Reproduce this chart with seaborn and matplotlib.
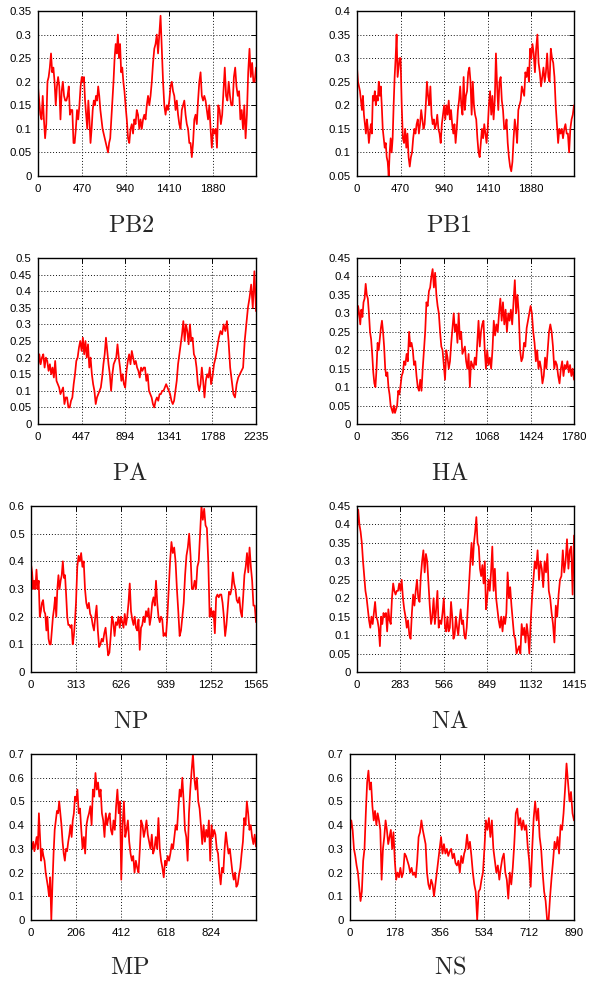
import numpy as np
import pandas as pd
import matplotlib
matplotlib.use("Agg")
import matplotlib.pyplot as plt
import seaborn as sns

# Segment names, in panel order (row by row)
segments = ["PB2", "PB1", "PA", "HA", "NP", "NA", "MP", "NS"]

# Segment lengths (x-axis extent, nucleotides)
seg_length = {"PB2": 2341, "PB1": 2341, "PA": 2235, "HA": 1780,
              "NP": 1565, "NA": 1415, "MP": 1027, "NS": 890}

# Labelled x ticks per segment
xticks = {
    "PB2": [0, 470, 940, 1410, 1880],
    "PB1": [0, 470, 940, 1410, 1880],
    "PA": [0, 447, 894, 1341, 1788, 2235],
    "HA": [0, 356, 712, 1068, 1424, 1780],
    "NP": [0, 313, 626, 939, 1252, 1565],
    "NA": [0, 283, 566, 849, 1132, 1415],
    "MP": [0, 206, 412, 618, 824],
    "NS": [0, 178, 356, 534, 712, 890],
}

# y-axis limits and tick step
ylims = {"PB2": (0, 0.35, 0.05), "PB1": (0.05, 0.4, 0.05), "PA": (0, 0.5, 0.05),
         "HA": (0, 0.45, 0.05), "NP": (0, 0.6, 0.1), "NA": (0, 0.45, 0.05),
         "MP": (0, 0.7, 0.1), "NS": (0, 0.7, 0.1)}

# Sliding-window scores, one list per stretch between consecutive x ticks
# (last stretch runs to the end of the segment)
pb2_scores = [
    [0.19, 0.16, 0.13, 0.12, 0.17, 0.12, 0.08, 0.11, 0.20, 0.21, 0.23, 0.26, 0.22, 0.23, 0.20, 0.15, 0.19, 0.21, 0.19, 0.12,
     0.18, 0.20, 0.17, 0.16, 0.16, 0.17, 0.19, 0.13, 0.14, 0.14, 0.07, 0.07, 0.10, 0.14, 0.12, 0.15, 0.19],
    [0.21, 0.20, 0.21, 0.16, 0.13, 0.10, 0.16, 0.12, 0.07, 0.10, 0.14, 0.16, 0.15, 0.17, 0.16, 0.19, 0.17, 0.14, 0.12, 0.10,
     0.09, 0.08, 0.07, 0.06, 0.05, 0.07, 0.08, 0.12, 0.16, 0.20, 0.25, 0.28, 0.26, 0.30, 0.25, 0.28, 0.22, 0.23, 0.20, 0.18],
    [0.15, 0.12, 0.08, 0.07, 0.10, 0.11, 0.09, 0.12, 0.11, 0.14, 0.13, 0.10, 0.12, 0.10, 0.12, 0.13, 0.12, 0.15, 0.17, 0.15,
     0.17, 0.20, 0.24, 0.27, 0.28, 0.30, 0.26, 0.30, 0.34, 0.27, 0.20, 0.15, 0.13, 0.15, 0.14],
    [0.16, 0.19, 0.20, 0.18, 0.17, 0.14, 0.16, 0.13, 0.11, 0.10, 0.14, 0.15, 0.16, 0.13, 0.11, 0.10, 0.07, 0.07, 0.04, 0.07,
     0.12, 0.13, 0.11, 0.16, 0.20, 0.22, 0.17, 0.16, 0.17, 0.16, 0.14, 0.12, 0.15, 0.10, 0.06],
    [0.10, 0.09, 0.10, 0.06, 0.15, 0.14, 0.11, 0.13, 0.18, 0.23, 0.17, 0.16, 0.20, 0.17, 0.15, 0.15, 0.21, 0.23, 0.19, 0.17,
     0.18, 0.12, 0.14, 0.10, 0.15, 0.08, 0.13, 0.22, 0.27, 0.21, 0.24, 0.20, 0.20, 0.23],
]
pb1_scores = [
    [0.28, 0.25, 0.24, 0.23, 0.21, 0.19, 0.22, 0.18, 0.16, 0.14, 0.17, 0.15, 0.12, 0.14, 0.16, 0.14, 0.22, 0.21, 0.23, 0.20,
     0.22, 0.21, 0.25, 0.22, 0.24, 0.20, 0.15, 0.13, 0.11, 0.12, 0.09, 0.08, 0.05, 0.10, 0.13, 0.10, 0.13, 0.20, 0.26, 0.30,
     0.35, 0.26, 0.28, 0.30],
    [0.30, 0.20, 0.13, 0.12, 0.15, 0.11, 0.14, 0.09, 0.07, 0.09, 0.10, 0.13, 0.15, 0.14, 0.16, 0.17, 0.14, 0.16, 0.19, 0.17,
     0.15, 0.16, 0.20, 0.25, 0.22, 0.20, 0.24, 0.18, 0.16, 0.17, 0.15, 0.16, 0.18, 0.15, 0.14, 0.12, 0.16, 0.18],
    [0.20, 0.17, 0.20, 0.18, 0.21, 0.17, 0.19, 0.16, 0.14, 0.16, 0.12, 0.15, 0.19, 0.21, 0.24, 0.20, 0.18, 0.26, 0.19, 0.22,
     0.23, 0.27, 0.28, 0.25, 0.18, 0.25, 0.20, 0.18, 0.17, 0.13, 0.10, 0.09, 0.12, 0.15, 0.13, 0.16, 0.14, 0.12],
    [0.15, 0.20, 0.23, 0.18, 0.22, 0.17, 0.21, 0.31, 0.24, 0.19, 0.25, 0.26, 0.21, 0.19, 0.15, 0.15, 0.17, 0.12, 0.09, 0.07,
     0.06, 0.08, 0.13, 0.17, 0.15, 0.12, 0.19, 0.20, 0.21, 0.24, 0.23, 0.22, 0.27, 0.26, 0.28, 0.25, 0.32],
    [0.30, 0.33, 0.31, 0.27, 0.32, 0.35, 0.29, 0.27, 0.24, 0.26, 0.28, 0.25, 0.27, 0.31, 0.26, 0.25, 0.32, 0.30, 0.29, 0.26,
     0.20, 0.16, 0.12, 0.15, 0.14, 0.15, 0.13, 0.15, 0.16, 0.14, 0.14, 0.10, 0.15, 0.17, 0.18, 0.20],
]
pa_scores = [
    [0.17, 0.21, 0.18, 0.20, 0.21, 0.17, 0.20, 0.19, 0.16, 0.18, 0.15, 0.17, 0.14, 0.19, 0.13, 0.12, 0.11, 0.09, 0.10, 0.11,
     0.06, 0.08, 0.08, 0.05, 0.05, 0.07, 0.08, 0.12, 0.15, 0.19, 0.20, 0.23, 0.25],
    [0.22, 0.26, 0.21, 0.25, 0.20, 0.24, 0.17, 0.20, 0.15, 0.12, 0.10, 0.06, 0.08, 0.09, 0.10, 0.11, 0.14, 0.18, 0.21, 0.26,
     0.22, 0.18, 0.15, 0.10, 0.15, 0.18, 0.19, 0.20, 0.24, 0.20, 0.17, 0.13, 0.15, 0.12],
    [0.11, 0.16, 0.19, 0.21, 0.18, 0.22, 0.20, 0.18, 0.19, 0.17, 0.16, 0.14, 0.17, 0.16, 0.17, 0.17, 0.13, 0.15, 0.10, 0.09,
     0.08, 0.06, 0.05, 0.07, 0.08, 0.07, 0.09, 0.09, 0.10, 0.10, 0.11, 0.12, 0.11],
    [0.10, 0.09, 0.07, 0.06, 0.07, 0.10, 0.13, 0.18, 0.21, 0.24, 0.27, 0.31, 0.25, 0.30, 0.28, 0.24, 0.30, 0.25, 0.26, 0.21,
     0.20, 0.17, 0.12, 0.10, 0.12, 0.17, 0.13, 0.08, 0.13, 0.15, 0.14, 0.17, 0.12],
    [0.14, 0.18, 0.20, 0.23, 0.26, 0.28, 0.27, 0.30, 0.28, 0.31, 0.25, 0.17, 0.13, 0.09, 0.08, 0.12, 0.14, 0.15, 0.16, 0.17,
     0.25, 0.30, 0.35, 0.38, 0.42, 0.35, 0.46, 0.34],
]
ha_scores = [
    [0.28, 0.32, 0.30, 0.27, 0.31, 0.29, 0.33, 0.34, 0.38, 0.35, 0.34, 0.30, 0.25, 0.23, 0.19, 0.14, 0.11, 0.10, 0.15, 0.22,
     0.20, 0.23, 0.26, 0.28, 0.25, 0.21, 0.15, 0.13, 0.14, 0.10, 0.08, 0.05, 0.04, 0.03, 0.05, 0.03, 0.04, 0.05, 0.09, 0.08],
    [0.10, 0.13, 0.14, 0.17, 0.16, 0.19, 0.17, 0.25, 0.21, 0.22, 0.20, 0.16, 0.17, 0.13, 0.10, 0.09, 0.12, 0.09, 0.15, 0.20,
     0.25, 0.33, 0.32, 0.36, 0.37, 0.40, 0.42, 0.37, 0.41, 0.35, 0.32, 0.30, 0.25, 0.21, 0.20],
    [0.16, 0.12, 0.20, 0.18, 0.15, 0.17, 0.22, 0.26, 0.30, 0.25, 0.27, 0.22, 0.30, 0.23, 0.25, 0.19, 0.20, 0.21, 0.17, 0.15,
     0.19, 0.10, 0.17, 0.16, 0.15, 0.18, 0.16, 0.22, 0.28, 0.21, 0.25, 0.27, 0.28, 0.20, 0.15],
    [0.20, 0.16, 0.18, 0.15, 0.20, 0.28, 0.24, 0.27, 0.25, 0.30, 0.34, 0.28, 0.33, 0.27, 0.31, 0.25, 0.30, 0.28, 0.31, 0.27,
     0.33, 0.39, 0.30, 0.35, 0.30, 0.20, 0.17, 0.18, 0.22, 0.21, 0.26, 0.28, 0.30],
    [0.32, 0.30, 0.25, 0.22, 0.17, 0.20, 0.15, 0.17, 0.15, 0.11, 0.13, 0.18, 0.15, 0.20, 0.25, 0.27, 0.25, 0.21, 0.15, 0.17,
     0.16, 0.13, 0.11, 0.15, 0.17, 0.13, 0.16, 0.15, 0.17, 0.14, 0.16, 0.13, 0.15, 0.12],
]
np_scores = [
    [0.39, 0.36, 0.30, 0.33, 0.30, 0.37, 0.30, 0.33, 0.20, 0.22, 0.25, 0.26, 0.22, 0.21, 0.15, 0.20, 0.12, 0.10, 0.10, 0.15,
     0.20, 0.23, 0.27, 0.20, 0.30, 0.35, 0.30, 0.33, 0.35, 0.40, 0.34, 0.35, 0.28, 0.20, 0.17, 0.17, 0.16, 0.17, 0.10, 0.13,
     0.18],
    [0.25, 0.38, 0.42, 0.40, 0.43, 0.38, 0.40, 0.30, 0.25, 0.23, 0.25, 0.21, 0.20, 0.17, 0.15, 0.20, 0.24, 0.15, 0.09, 0.10,
     0.12, 0.11, 0.14, 0.16, 0.11, 0.06, 0.07, 0.13, 0.20, 0.18, 0.13, 0.18, 0.17, 0.20, 0.16],
    [0.20, 0.18, 0.16, 0.21, 0.17, 0.20, 0.25, 0.32, 0.22, 0.19, 0.17, 0.20, 0.16, 0.15, 0.19, 0.08, 0.16, 0.17, 0.20, 0.18,
     0.22, 0.20, 0.23, 0.17, 0.20, 0.25, 0.27, 0.24, 0.33, 0.25, 0.20, 0.18, 0.20, 0.19, 0.13, 0.14],
    [0.13, 0.20, 0.30, 0.40, 0.47, 0.43, 0.45, 0.40, 0.30, 0.22, 0.13, 0.15, 0.20, 0.25, 0.35, 0.42, 0.45, 0.50, 0.42, 0.30,
     0.30, 0.33, 0.30, 0.38, 0.40, 0.50, 0.60, 0.55, 0.59, 0.53, 0.52, 0.40, 0.20],
    [0.23, 0.20, 0.22, 0.14, 0.27, 0.28, 0.27, 0.28, 0.28, 0.25, 0.20, 0.13, 0.17, 0.23, 0.29, 0.28, 0.30, 0.36, 0.32, 0.30,
     0.26, 0.25, 0.27, 0.22, 0.20, 0.27, 0.35, 0.38, 0.43, 0.36, 0.45, 0.38, 0.33, 0.24, 0.24, 0.18],
]
na_scores = [
    [0.38, 0.44, 0.40, 0.38, 0.35, 0.30, 0.26, 0.22, 0.20, 0.17, 0.14, 0.12, 0.15, 0.13, 0.16, 0.19, 0.15, 0.14, 0.12, 0.07,
     0.15, 0.13, 0.16, 0.15, 0.16, 0.11, 0.17, 0.14, 0.13, 0.20, 0.24, 0.22, 0.21, 0.22, 0.22, 0.24],
    [0.22, 0.25, 0.20, 0.17, 0.15, 0.12, 0.14, 0.10, 0.09, 0.16, 0.21, 0.18, 0.22, 0.25, 0.20, 0.19, 0.26, 0.30, 0.33, 0.27,
     0.32, 0.30, 0.24, 0.18, 0.13, 0.15, 0.20, 0.13, 0.17, 0.22, 0.12, 0.14, 0.13, 0.16],
    [0.20, 0.12, 0.11, 0.15, 0.11, 0.12, 0.19, 0.15, 0.09, 0.10, 0.15, 0.12, 0.10, 0.14, 0.17, 0.13, 0.14, 0.10, 0.09, 0.12,
     0.18, 0.24, 0.30, 0.35, 0.29, 0.35, 0.38, 0.42, 0.35, 0.34, 0.28, 0.26, 0.29, 0.24, 0.30, 0.17],
    [0.20, 0.25, 0.22, 0.27, 0.34, 0.22, 0.28, 0.20, 0.17, 0.14, 0.12, 0.15, 0.11, 0.15, 0.13, 0.16, 0.27, 0.20, 0.23, 0.18,
     0.14, 0.10, 0.09, 0.05, 0.06, 0.07, 0.05, 0.13, 0.10, 0.12, 0.08, 0.13, 0.10, 0.05],
    [0.13, 0.20, 0.25, 0.30, 0.28, 0.33, 0.25, 0.30, 0.28, 0.23, 0.30, 0.27, 0.32, 0.22, 0.20, 0.16, 0.13, 0.08, 0.18, 0.15,
     0.21, 0.25, 0.26, 0.33, 0.27, 0.30, 0.36, 0.28, 0.33, 0.34, 0.21, 0.37],
]
mp_scores = [
    [0.33, 0.30, 0.33, 0.29, 0.32, 0.35, 0.30, 0.45, 0.35, 0.25, 0.30, 0.27, 0.25, 0.20, 0.17, 0.14, 0.10, 0.18, 0.00, 0.15,
     0.28, 0.38, 0.42, 0.46, 0.45, 0.50, 0.45, 0.40, 0.33, 0.28, 0.25, 0.30, 0.29, 0.33, 0.36, 0.40, 0.35, 0.42, 0.45, 0.52],
    [0.50, 0.55, 0.45, 0.47, 0.38, 0.30, 0.35, 0.28, 0.40, 0.43, 0.45, 0.48, 0.40, 0.55, 0.52, 0.62, 0.55, 0.58, 0.52, 0.55,
     0.45, 0.42, 0.35, 0.45, 0.40, 0.43, 0.45, 0.38, 0.36, 0.42, 0.38, 0.48, 0.55, 0.45, 0.50],
    [0.17, 0.40, 0.50, 0.35, 0.38, 0.42, 0.33, 0.28, 0.25, 0.27, 0.20, 0.25, 0.22, 0.20, 0.30, 0.42, 0.40, 0.35, 0.38, 0.42,
     0.36, 0.33, 0.30, 0.36, 0.28, 0.30, 0.35, 0.30, 0.43, 0.30, 0.25, 0.22, 0.18, 0.25],
    [0.23, 0.27, 0.25, 0.28, 0.32, 0.30, 0.35, 0.40, 0.38, 0.47, 0.55, 0.52, 0.60, 0.50, 0.38, 0.35, 0.25, 0.45, 0.55, 0.63,
     0.70, 0.60, 0.55, 0.60, 0.50, 0.47, 0.40, 0.32, 0.40, 0.33, 0.38, 0.35, 0.42, 0.25],
    [0.40, 0.35, 0.38, 0.36, 0.30, 0.28, 0.20, 0.15, 0.22, 0.20, 0.30, 0.37, 0.32, 0.28, 0.30, 0.25, 0.20, 0.17, 0.20, 0.14,
     0.15, 0.19, 0.22, 0.28, 0.33, 0.43, 0.40, 0.50, 0.45, 0.38, 0.40, 0.35, 0.32, 0.36, 0.31],
]
ns_scores = [
    [0.37, 0.42, 0.38, 0.30, 0.27, 0.23, 0.20, 0.14, 0.08, 0.12, 0.25, 0.30, 0.45, 0.58, 0.63, 0.55, 0.58, 0.48, 0.42, 0.46,
     0.40, 0.45, 0.42, 0.38, 0.17, 0.30, 0.35, 0.42, 0.38, 0.32, 0.35, 0.38, 0.30, 0.37],
    [0.25, 0.17, 0.20, 0.18, 0.22, 0.18, 0.20, 0.28, 0.27, 0.25, 0.23, 0.20, 0.22, 0.19, 0.20, 0.18, 0.25, 0.35, 0.37, 0.42,
     0.38, 0.35, 0.32, 0.20, 0.15, 0.13, 0.17, 0.15, 0.10, 0.15, 0.20, 0.25],
    [0.30, 0.35, 0.28, 0.32, 0.28, 0.30, 0.27, 0.29, 0.30, 0.26, 0.28, 0.24, 0.23, 0.25, 0.20, 0.27, 0.24, 0.28, 0.30, 0.36,
     0.30, 0.33, 0.27, 0.20, 0.15, 0.12, 0.00, 0.12, 0.13, 0.17, 0.20],
    [0.30, 0.42, 0.38, 0.43, 0.35, 0.42, 0.30, 0.25, 0.20, 0.23, 0.17, 0.22, 0.26, 0.28, 0.20, 0.17, 0.09, 0.20, 0.15, 0.22,
     0.32, 0.45, 0.47, 0.40, 0.43, 0.38, 0.42, 0.38, 0.40, 0.31],
    [0.25, 0.14, 0.30, 0.43, 0.50, 0.42, 0.47, 0.35, 0.30, 0.20, 0.12, 0.08, 0.00, 0.00, 0.10, 0.18, 0.25, 0.33, 0.30, 0.35,
     0.28, 0.40, 0.38, 0.45, 0.55, 0.66, 0.58, 0.50, 0.54, 0.45, 0.42],
]

scores = {"PB2": pb2_scores, "PB1": pb1_scores, "PA": pa_scores, "HA": ha_scores,
          "NP": np_scores, "NA": na_scores, "MP": mp_scores, "NS": ns_scores}

# Axes boxes in pixels: left, right, top, bottom (figure is 589 x 983)
W, H = 589, 983
boxes = {
    "PB2": (38, 256, 11, 176), "PB1": (357, 574, 11, 176),
    "PA": (38, 256, 258, 424), "HA": (357, 574, 258, 424),
    "NP": (31, 256, 506, 672), "NA": (357, 574, 506, 672),
    "MP": (31, 256, 754, 920), "NS": (350, 574, 754, 920),
}
title_pos = {
    "PB2": (131, 226), "PB1": (449, 226), "PA": (130, 474), "HA": (450, 474),
    "NP": (131, 722), "NA": (450, 722), "MP": (130, 968), "NS": (450, 968),
}


def build_frame(name):
    """Place each stretch of scores evenly between its bounding ticks."""
    bounds = list(xticks[name])
    if bounds[-1] != seg_length[name]:
        bounds.append(seg_length[name])
    xs, ys = [], []
    chunks = scores[name]
    for i, chunk in enumerate(chunks):
        last = i == len(chunks) - 1
        xs.append(np.linspace(bounds[i], bounds[i + 1], len(chunk), endpoint=last))
        ys.append(np.asarray(chunk, dtype=float))
    return pd.DataFrame({"position": np.concatenate(xs), "score": np.concatenate(ys)})


sns.set_style("white")
plt.rcParams["font.family"] = ["Liberation Sans", "DejaVu Sans"]
plt.rcParams["mathtext.fontset"] = "cm"

fig = plt.figure(figsize=(W / 100, H / 100), dpi=100)

for name in segments:
    l, r, t, b = boxes[name]
    ax = fig.add_axes([l / W, 1 - b / H, (r - l) / W, (b - t) / H])
    df = build_frame(name)
    sns.lineplot(data=df, x="position", y="score", ax=ax, color="#ff0000",
                 linewidth=1.25, sort=False, estimator=None)

    y0, y1, step = ylims[name]
    yt = np.round(np.arange(y0, y1 + step / 2, step), 2)
    ax.set_xlim(0, seg_length[name])
    ax.set_ylim(y0, y1)
    ax.set_xticks(xticks[name])
    ax.set_yticks(yt)
    ax.set_xticklabels([str(v) for v in xticks[name]])
    ax.set_yticklabels([f"{v:g}" for v in yt])
    ax.set_xlabel("")
    ax.set_ylabel("")
    ax.grid(True, color="#111111", linestyle=(0, (1, 2)), linewidth=0.7)
    ax.set_axisbelow(True)
    for sp in ax.spines.values():
        sp.set_color("black")
        sp.set_linewidth(1.0)
        sp.set_visible(True)
    ax.tick_params(axis="both", direction="in", length=3.5, width=0.7,
                   labelsize=8.2, colors="black", top=True, right=True)
    ax.tick_params(axis="y", pad=4.5)
    ax.tick_params(axis="x", pad=5.5)

    tx, ty = title_pos[name]
    fig.text(tx / W, 1 - ty / H, r"$\mathrm{" + name + "}$", fontsize=17.5,
             ha="center", va="center")

fig.savefig("out.png", dpi=100)
